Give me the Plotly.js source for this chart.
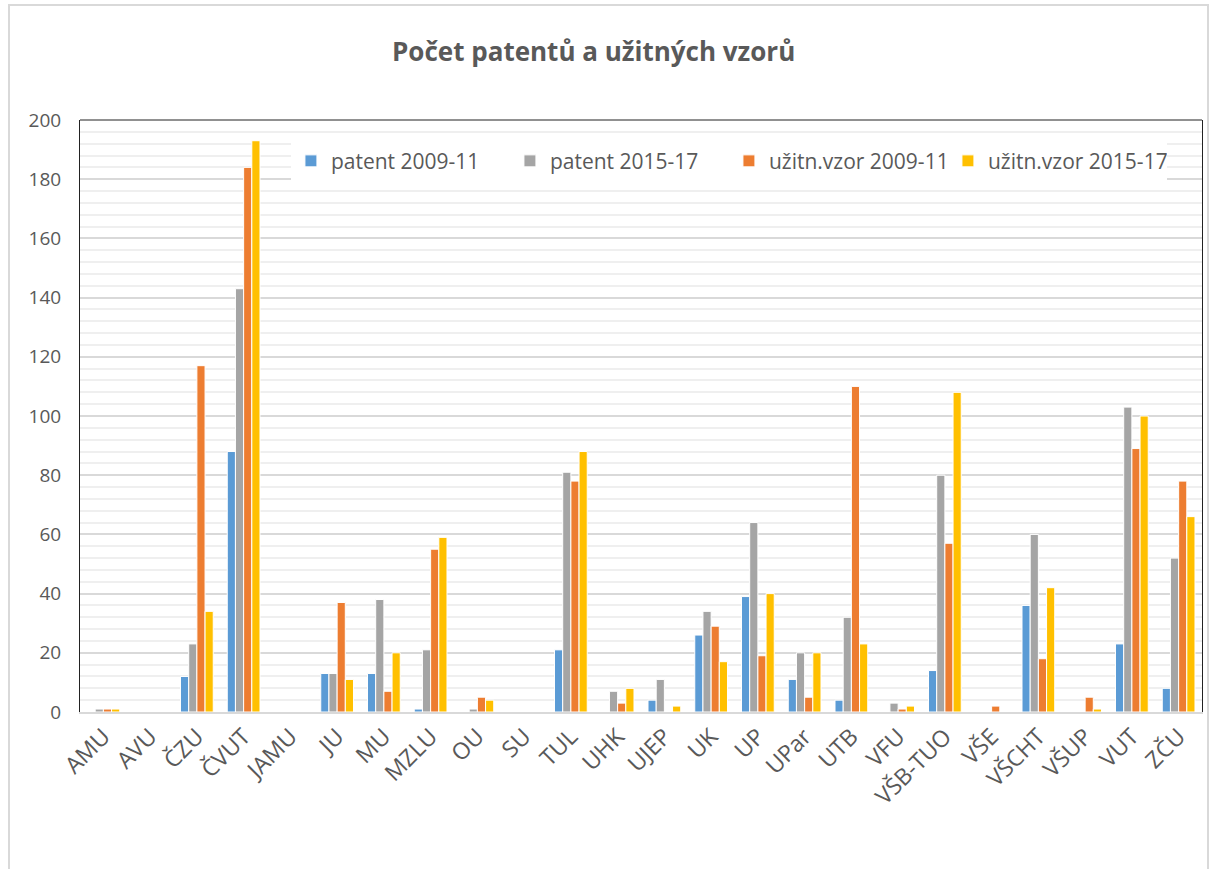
<!DOCTYPE html>
<html>
<head>
<meta charset="utf-8">
<script src="https://cdn.plot.ly/plotly-3.0.1.min.js"></script>
<style>
  html, body { margin: 0; padding: 0; background: #fff; }
  #wrap { position: relative; width: 1219px; height: 869px; overflow: hidden; }
  #frame { position: absolute; left: 8px; top: 4px; width: 1201px; height: 900px; border: 2px solid #d9d9d9; box-sizing: border-box; pointer-events: none; }
  #chart { position: absolute; left: 0; top: 0; width: 1219px; height: 869px; }
</style>
</head>
<body>
<div id="wrap">
  <div id="chart"></div>
  <div id="frame"></div>
</div>
<script>
const categories = ["AMU","AVU","ČZU","ČVUT","JAMU","JU","MU","MZLU","OU","SU","TUL","UHK","UJEP","UK","UP","UPar","UTB","VFU","VŠB-TUO","VŠE","VŠCHT","VŠUP","VUT","ZČU"];
const patent0911 = [0,0,12,88,0,13,13,1,0,0,21,0,4,26,39,11,4,0,14,0,36,0,23,8];
const patent1517 = [1,0,23,143,0,13,38,21,1,0,81,7,11,34,64,20,32,3,80,0,60,0,103,52];
const uzitn0911  = [1,0,117,184,0,37,7,55,5,0,78,3,0,29,19,5,110,1,57,2,18,5,89,78];
const uzitn1517  = [1,0,34,193,0,11,20,59,4,0,88,8,2,17,40,20,23,2,108,0,42,1,100,66];
const seriesNames = ["patent 2009-11","patent 2015-17","užitn.vzor 2009-11","užitn.vzor 2015-17"];
const seriesColors = ["#5B9BD5","#A5A5A5","#ED7D31","#FFC000"];
const seriesValues = [patent0911, patent1517, uzitn0911, uzitn1517];

const font = "Open Sans, Liberation Sans, sans-serif";
const textColor = "#595959";

const traces = seriesValues.map((vals, i) => ({
  type: "bar",
  name: seriesNames[i],
  x: categories,
  y: vals,
  marker: { color: seriesColors[i], line: { color: "#ffffff", width: 1 } },
  hoverinfo: "x+y+name"
}));

const layout = {
  width: 1219,
  height: 869,
  margin: { l: 80, r: 17, t: 120, b: 157 },
  paper_bgcolor: "rgba(0,0,0,0)",
  plot_bgcolor: "#ffffff",
  barmode: "group",
  bargap: 0.3,
  bargroupgap: 0,
  font: { family: font, color: textColor, size: 18 },
  title: {
    text: "<b>Počet patentů a užitných vzorů</b>",
    font: { family: font, size: 26, color: textColor },
    x: 0.487, xanchor: "center",
    y: 0.94, yanchor: "middle"
  },
  xaxis: {
    type: "category",
    tickangle: -45,
    tickfont: { size: 23, color: textColor },
    showgrid: false,
    showline: true,
    linecolor: "#d9d9d9",
    linewidth: 2,
    ticks: "",
    zeroline: false
  },
  yaxis: {
    range: [0, 200],
    dtick: 20,
    tickfont: { size: 19, color: textColor },
    ticklabelstandoff: 14,
    showgrid: true,
    gridcolor: "#d9d9d9",
    gridwidth: 2,
    minor: { dtick: 4, showgrid: true, gridcolor: "#efefef", gridwidth: 2 },
    showline: true,
    linecolor: "#222222",
    linewidth: 1,
    mirror: true,
    zeroline: false,
    ticks: ""
  },
  shapes: [
    { type: "line", xref: "paper", yref: "paper", x0: 0, x1: 1, y0: 1, y1: 1,
      line: { color: "#222222", width: 1 } }
  ],
  legend: {
    orientation: "h",
    x: 0.188, xanchor: "left",
    y: 0.965, yanchor: "top",
    bgcolor: "#ffffff",
    font: { size: 21, color: textColor },
    itemwidth: 30,
    entrywidth: 174,
    traceorder: "normal"
  },
  showlegend: true
};

Plotly.newPlot("chart", traces, layout, { displayModeBar: false, staticPlot: true });
</script>
</body>
</html>
